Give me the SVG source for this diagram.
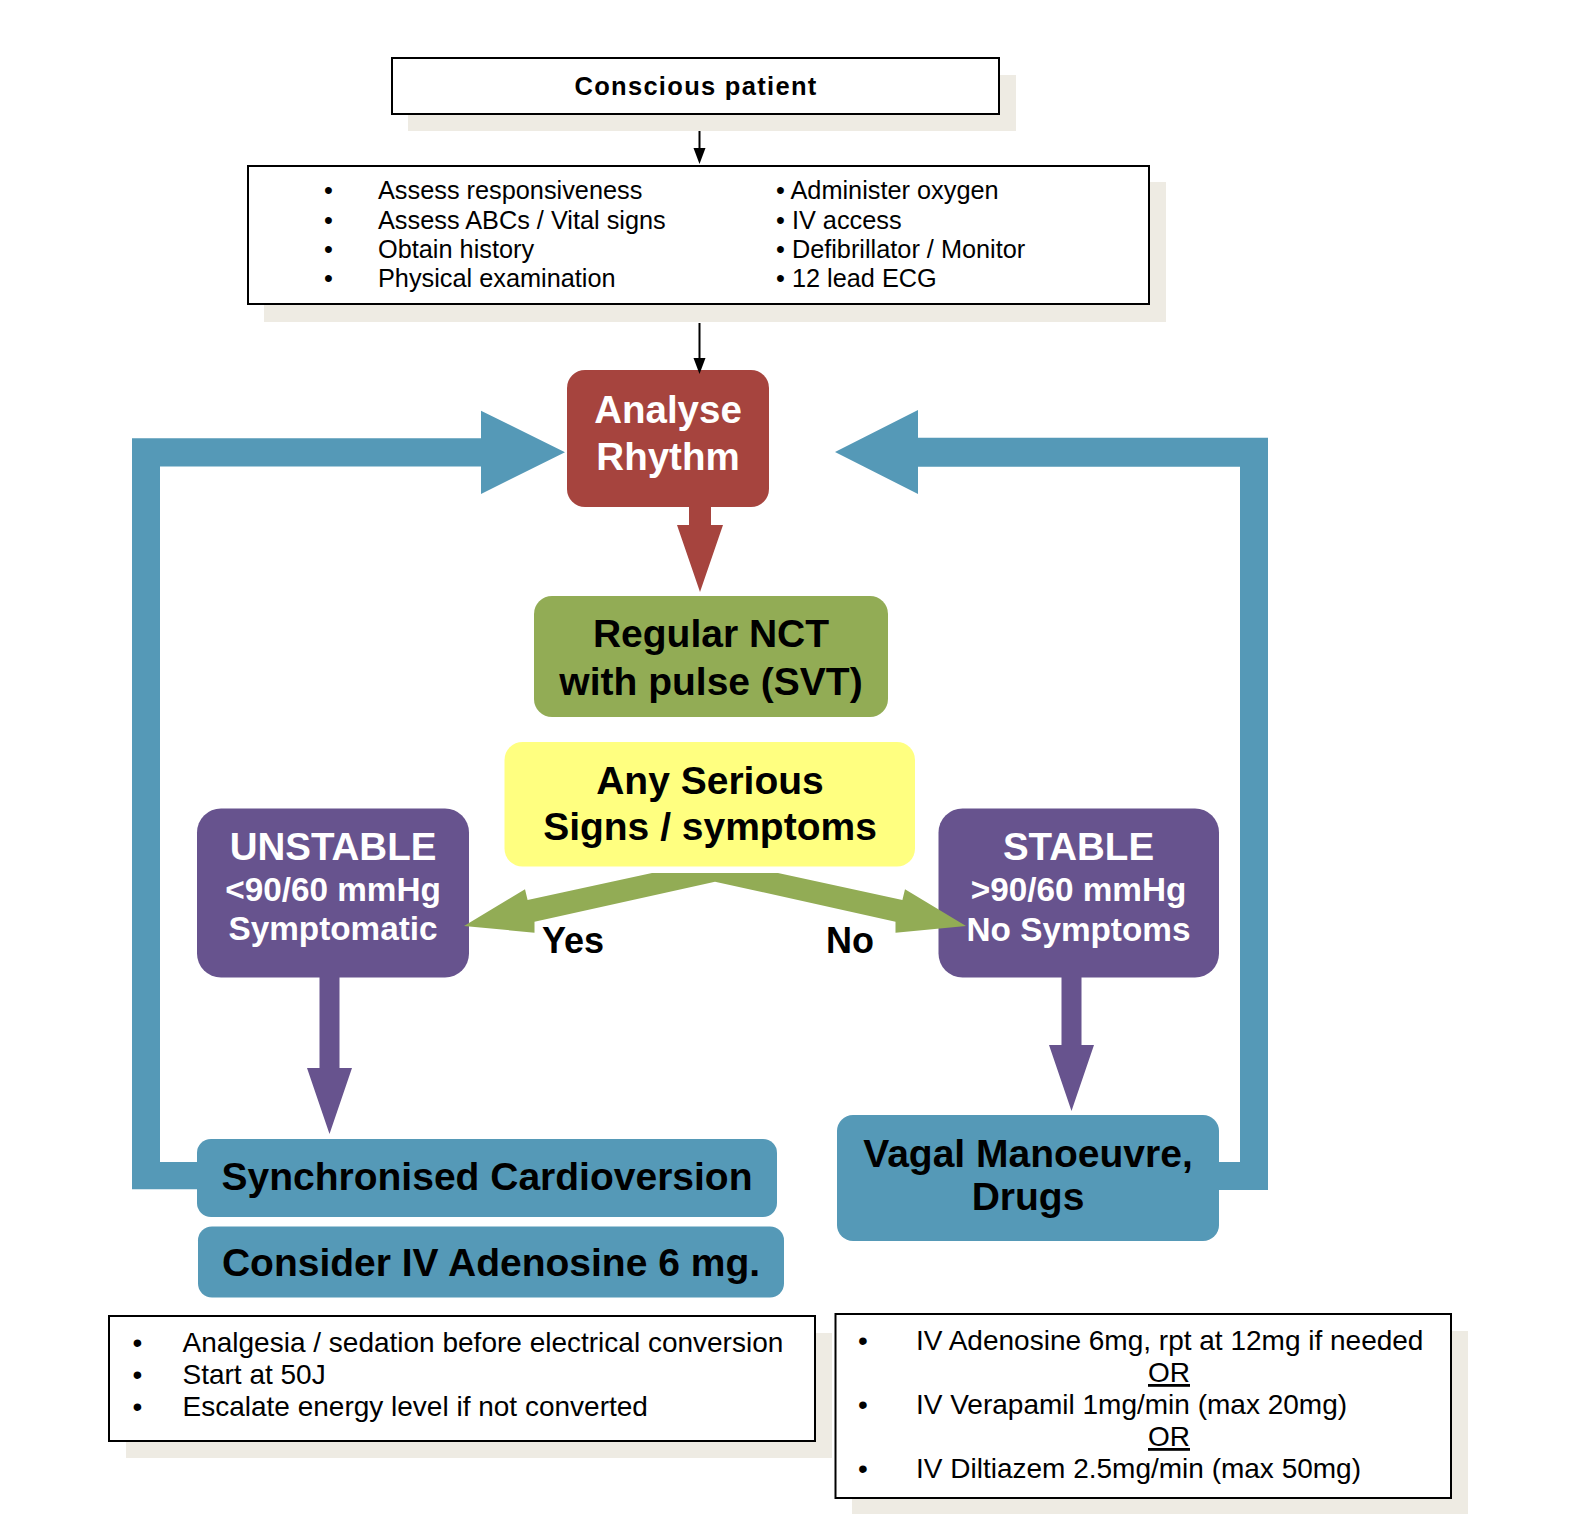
<svg xmlns="http://www.w3.org/2000/svg" width="1576" height="1514" viewBox="0 0 1576 1514">
<style>
text{font-family:"Liberation Sans",Arial,sans-serif}
.shadow{fill:#EEEBE3}
.box{fill:#fff;stroke:#000;stroke-width:2}
.t{font-size:25.3px;fill:#000}
.s{font-size:28px;fill:#000}
.big{font-size:39px;font-weight:bold;text-anchor:middle;fill:#000}
.wb{font-size:38.5px;font-weight:bold;text-anchor:middle;fill:#fff}
.ws{font-size:33.3px;font-weight:bold;text-anchor:middle;fill:#fff}
.blue{fill:#5599B7}
.purple{fill:#67538E}
.lbl{font-size:36px;font-weight:bold;fill:#000}
.ln{stroke:#000;stroke-width:2;fill:none}
</style>
<rect width="1576" height="1514" fill="#fff"/>

<g id="conscious">
<rect class="shadow" x="408" y="75" width="608" height="56"/>
<rect class="box" x="392" y="58" width="607" height="56"/>
<text x="696" y="94.5" font-size="25.5" font-weight="bold" letter-spacing="1.3" text-anchor="middle">Conscious patient</text>
</g>

<g id="assess">
<rect class="shadow" x="264" y="182" width="902" height="140"/>
<rect class="box" x="248" y="166" width="901" height="138"/>
<text class="t" x="324" y="199">•</text><text class="t" x="378" y="199">Assess responsiveness</text>
<text class="t" x="324" y="228.5">•</text><text class="t" x="378" y="228.5">Assess ABCs / Vital signs</text>
<text class="t" x="324" y="258">•</text><text class="t" x="378" y="258">Obtain history</text>
<text class="t" x="324" y="287">•</text><text class="t" x="378" y="287">Physical examination</text>
<text class="t" x="776" y="199">• Administer oxygen</text>
<text class="t" x="776" y="228.5">• IV access</text>
<text class="t" x="776" y="258">• Defibrillator / Monitor</text>
<text class="t" x="776" y="287">• 12 lead ECG</text>
</g>

<g id="analyse">
<rect x="567" y="370" width="202" height="137" rx="18" fill="#A6443E"/>
<text class="wb" x="668" y="422.5">Analyse</text>
<text class="wb" x="668" y="470">Rhythm</text>
</g>

<g id="regular">
<rect x="534" y="596" width="354" height="121" rx="18" fill="#92AC55"/>
<text class="big" x="711" y="647">Regular NCT</text>
<text class="big" x="711" y="694.5">with pulse (SVT)</text>
</g>

<g id="serious">
<rect x="504.5" y="742" width="410.5" height="124.5" rx="18" fill="#FFFF80"/>
<text class="big" x="710" y="794">Any Serious</text>
<text class="big" x="710" y="840">Signs / symptoms</text>
</g>

<g id="unstable">
<rect class="purple" x="197" y="808.5" width="272" height="169" rx="24"/>
<text class="wb" x="333" y="860">UNSTABLE</text>
<text class="ws" x="333" y="901">&lt;90/60 mmHg</text>
<text class="ws" x="333" y="940">Symptomatic</text>
</g>

<g id="stable">
<rect class="purple" x="938.5" y="808.5" width="280.5" height="169" rx="24"/>
<text class="wb" x="1078.5" y="860">STABLE</text>
<text class="ws" x="1078.5" y="900.5">&gt;90/60 mmHg</text>
<text class="ws" x="1078.5" y="941">No Symptoms</text>
</g>

<g id="synchronised">
<rect class="blue" x="197" y="1139" width="580" height="78" rx="14"/>
<text class="big" x="487" y="1189.5">Synchronised Cardioversion</text>
</g>

<g id="adenosine">
<rect class="blue" x="198" y="1226.5" width="586" height="71" rx="14"/>
<text class="big" x="491" y="1275.5">Consider IV Adenosine 6 mg.</text>
</g>

<g id="vagal">
<rect class="blue" x="837" y="1115" width="382" height="126" rx="16"/>
<text class="big" x="1028" y="1166.5">Vagal Manoeuvre,</text>
<text class="big" x="1028" y="1210">Drugs</text>
</g>

<g id="notes-left">
<rect class="shadow" x="126" y="1333" width="706" height="125"/>
<rect class="box" x="109" y="1316" width="706" height="125"/>
<text class="s" x="132.5" y="1352">•</text><text class="s" x="182.5" y="1352">Analgesia / sedation before electrical conversion</text>
<text class="s" x="132.5" y="1384">•</text><text class="s" x="182.5" y="1384">Start at 50J</text>
<text class="s" x="132.5" y="1416">•</text><text class="s" x="182.5" y="1416">Escalate energy level if not converted</text>
</g>

<g id="notes-right">
<rect class="shadow" x="852" y="1331" width="616" height="190"/>
<rect class="box" x="835.5" y="1314" width="615.5" height="184"/>
<text class="s" x="858" y="1350">•</text><text class="s" x="916" y="1350">IV Adenosine 6mg, rpt at 12mg if needed</text>
<text class="s" x="1169" y="1382" text-anchor="middle" text-decoration="underline">OR</text>
<text class="s" x="858" y="1414">•</text><text class="s" x="916" y="1414">IV Verapamil 1mg/min (max 20mg)</text>
<text class="s" x="1169" y="1446" text-anchor="middle" text-decoration="underline">OR</text>
<text class="s" x="858" y="1478">•</text><text class="s" x="916" y="1478">IV Diltiazem 2.5mg/min (max 50mg)</text>
</g>

<g id="connectors">
<line class="ln" x1="699.5" y1="131" x2="699.5" y2="150"/>
<path d="M693.5,148 L705.5,148 L699.5,164 Z" fill="#000"/>
<line class="ln" x1="699.5" y1="323" x2="699.5" y2="360"/>
<path d="M693.5,358 L705.5,358 L699.5,374 Z" fill="#000"/>
<path d="M689,507 L711,507 L711,525 L723,525 L700,592 L677,525 L689,525 Z" fill="#A6443E"/>
<path class="blue" d="M197,1162 L160,1162 L160,466.5 L481,466.5 L481,494 L565,452.3 L481,410.7 L481,438.3 L132,438.3 L132,1189.3 L197,1189.3 Z"/>
<path class="blue" d="M1219,1162 L1240,1162 L1240,466.7 L918,466.7 L918,494 L835,452 L918,410 L918,437.7 L1268,437.7 L1268,1190 L1219,1190 Z"/>
<path d="M652,873 L778,873 L902.4,900 L905,889.3 L966,926 L895.5,932.7 L895.5,921.7 L715,881.7 L534.5,921.7 L534.5,932.7 L464,926 L525,889.3 L527.6,900 Z" fill="#92AC55"/>
<path class="purple" d="M319.5,977 L339.5,977 L339.5,1068 L352,1068 L329.5,1134 L307,1068 L319.5,1068 Z"/>
<path class="purple" d="M1061.5,977 L1081.5,977 L1081.5,1045 L1094,1045 L1071.5,1111 L1049,1045 L1061.5,1045 Z"/>
<text class="lbl" x="542" y="953">Yes</text>
<text class="lbl" x="826" y="953">No</text>
</g>
</svg>
